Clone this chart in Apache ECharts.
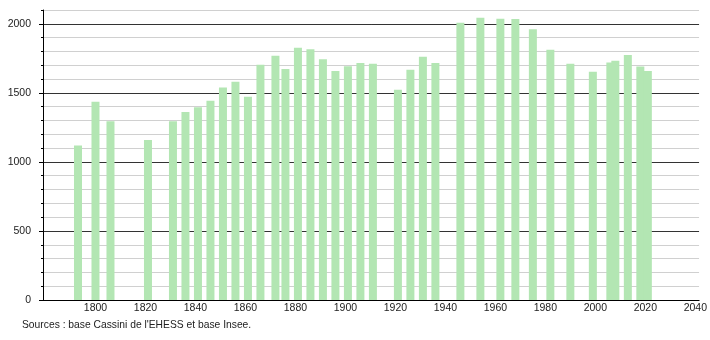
<!DOCTYPE html>
<html>
<head>
<meta charset="utf-8">
<script src="https://cdn.jsdelivr.net/npm/echarts@6/dist/echarts.min.js"></script>
<style>
html,body{margin:0;padding:0;background:#fff;}
#chart{width:710px;height:340px;}
</style>
</head>
<body>
<div id="chart"></div>
<script>
var years = [1793, 1800, 1806, 1821, 1831, 1836, 1841, 1846, 1851, 1856, 1861, 1866, 1872, 1876, 1881, 1886, 1891, 1896, 1901, 1906, 1911, 1921, 1926, 1931, 1936, 1946, 1954, 1962, 1968, 1975, 1982, 1990, 1999, 2006, 2008, 2013, 2018, 2021];
var population = [1118, 1435, 1295, 1159, 1295, 1362, 1396, 1442, 1538, 1580, 1471, 1703, 1768, 1672, 1826, 1816, 1744, 1659, 1693, 1717, 1710, 1522, 1667, 1761, 1717, 2007, 2043, 2036, 2034, 1961, 1812, 1710, 1652, 1720, 1732, 1775, 1690, 1659];
var xTickLabels = [1800, 1820, 1840, 1860, 1880, 1900, 1920, 1940, 1960, 1980, 2000, 2020, 2040];
var yTickLabels = [0, 500, 1000, 1500, 2000];
var sourceText = "Sources : base Cassini de l'EHESS et base Insee.";

var FONT = 'Liberation Sans, Arial, sans-serif';
function plain(v) { return String(v); }
var chart = echarts.init(document.getElementById('chart'));
chart.setOption({
  animation: false,
  backgroundColor: '#fff',
  grid: {left: 43, right: 10, top: 10, bottom: 40, containLabel: false},
  xAxis: {
    type: 'value', min: 1779, max: 2041.5,
    axisLine: {show: true, lineStyle: {color: '#000', width: 1}},
    axisTick: {show: false},
    splitLine: {show: false},
    axisLabel: {customValues: xTickLabels, formatter: plain, color: '#222', fontSize: 10.5, fontFamily: FONT, margin: 3}
  },
  yAxis: [{
    type: 'value', min: 0, max: 2100, interval: 100,
    axisLine: {show: true, lineStyle: {color: '#000', width: 1}},
    axisTick: {show: true, length: 2, lineStyle: {color: '#000'}},
    splitLine: {show: true, lineStyle: {color: ['#333', '#d0d0d0', '#d0d0d0', '#d0d0d0', '#d0d0d0'], width: 1}},
    axisLabel: {customValues: yTickLabels, formatter: plain, color: '#222', fontSize: 10.5, fontFamily: FONT, margin: 12}
  }, {
    type: 'value', min: 0, max: 2100, position: 'left',
    axisLine: {show: false},
    axisTick: {show: true, length: 4, customValues: yTickLabels, lineStyle: {color: '#000'}},
    splitLine: {show: false},
    axisLabel: {show: false}
  }],
  series: [{
    type: 'bar',
    yAxisIndex: 0,
    barWidth: 8,
    itemStyle: {color: '#b3e6b3'},
    data: years.map(function (y, i) { return [y, population[i]]; })
  }],
  graphic: [{
    type: 'text', left: 22, top: 320,
    style: {text: sourceText, fill: '#222', font: '10.3px ' + FONT}
  }]
});
</script>
</body>
</html>
